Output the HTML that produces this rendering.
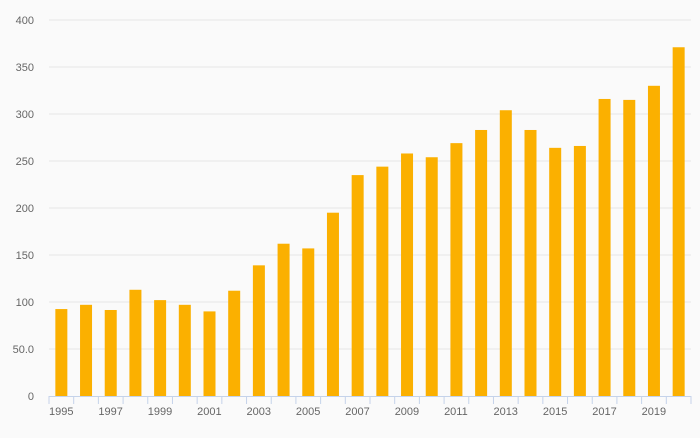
<!DOCTYPE html>
<html><head><meta charset="utf-8"><style>
body{margin:0;background:#fafafa;font-family:"Liberation Sans",sans-serif;}
svg text{font-size:11px;fill:#666;}
</style></head><body>
<svg id="c" width="700" height="433">
<rect width="700" height="433" fill="#fafafa"/>
</svg>
<script>
const years=[1995,1996,1997,1998,1999,2000,2001,2002,2003,2004,2005,2006,2007,2008,2009,2010,2011,2012,2013,2014,2015,2016,2017,2018,2019,2020];
const values=[92.5,97,91.5,113,102,97,90,112,139,162,157,195,235,244,258,254,269,283,304,283,264,266,316,315,330,371];
const yTicks=[0,50,100,150,200,250,300,350,400];
const yTickLabels=["0","50.0","100","150","200","250","300","350","400"];
const svg=document.getElementById('c');
const NS='http://www.w3.org/2000/svg';
const x0=49,x1=691,y0=396,y1=20;
const step=(x1-x0)/years.length;
const y=v=>y0-(v/400)*(y0-y1);
const xs=i=>x0+i*step;
function mk(t,a){const e=document.createElementNS(NS,t);for(const k in a)e.setAttribute(k,a[k]);svg.appendChild(e);return e;}
yTicks.forEach((v,i)=>{
  if(v>0){const g=mk('line',{x1:x0,x2:x1,y1:y(v),y2:y(v),stroke:'#e6e6e6'});
  
  }
  const t=mk('text',{x:34,y:y(v)+4,'text-anchor':'end'});t.textContent=yTickLabels[i];
  
  
});
values.forEach((v,i)=>{
  const b=mk('rect',{x:xs(i)+step/2-6,y:y(v),width:12,height:y0-y(v),fill:'#fbb000'});
  
  
});
const ax=mk('line',{x1:x0,x2:x1,y1:y0+0.5,y2:y0+0.5,stroke:'#c5d3ea'});


for(let i=0;i<=years.length;i++){
  const tk=mk('line',{x1:xs(i),x2:xs(i),y1:y0,y2:y0+8,stroke:'#c5d3ea'});
  
  
}
years.forEach((yr,i)=>{
  if(i%2)return;
  const t=mk('text',{x:xs(i),y:415});t.textContent=yr;
  
  
});
</script>
</body></html>
